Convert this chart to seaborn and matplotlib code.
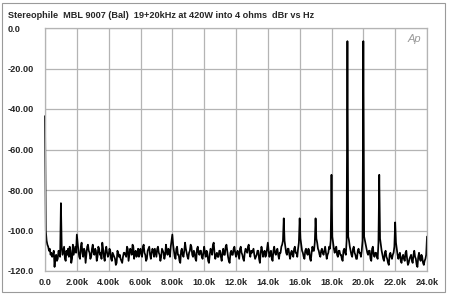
import matplotlib
matplotlib.use("Agg")
import matplotlib.pyplot as plt
import seaborn as sns
import numpy as np
import pandas as pd
from matplotlib.patches import Rectangle

# ---- data ----
title = "Stereophile  MBL 9007 (Bal)  19+20kHz at 420W into 4 ohms  dBr vs Hz"
step_hz = 50  # spacing of the noise floor readings
noise_floor = [
    -43.5, -100, -105, -107, -108, -110, -109, -112, -111, -113, -112, -110, -118, -113, -112, -115, -114, -110, -111, -113,
    -104, -108, -112, -110, -108, -114, -115, -110, -112, -109, -113, -108, -110, -116, -114, -107, -112, -110, -108, -111,
    -102, -106, -110, -113, -114, -108, -106, -111, -113, -109, -110, -116, -112, -108, -107, -110, -111, -114, -113, -109,
    -107, -111, -112, -109, -110, -115, -113, -108, -109, -112, -111, -114, -106, -109, -113, -115, -110, -108, -111, -113,
    -112, -109, -110, -114, -115, -111, -112, -113, -114, -117, -116, -110, -111, -113, -112, -114, -115, -116, -113, -111,
    -111, -112, -113, -108, -109, -115, -112, -109, -110, -112, -107, -108, -114, -111, -110, -113, -112, -109, -113, -110,
    -109, -112, -113, -108, -107, -111, -112, -115, -114, -110, -109, -108, -112, -114, -111, -109, -110, -113, -109, -111,
    -113, -109, -108, -111, -112, -115, -113, -109, -110, -111, -114, -112, -107, -110, -112, -109, -110, -113, -108, -105,
    -102, -107, -110, -113, -114, -109, -108, -112, -112, -115, -116, -110, -109, -112, -113, -110, -106, -109, -111, -113,
    -114, -111, -110, -107, -108, -112, -113, -110, -111, -114, -115, -109, -108, -111, -112, -110, -110, -113, -114, -111,
    -108, -111, -113, -110, -111, -115, -116, -112, -109, -110, -112, -107, -106, -111, -114, -112, -111, -113, -113, -110,
    -110, -113, -115, -111, -109, -112, -112, -108, -107, -110, -113, -115, -116, -111, -110, -112, -112, -109, -108, -111,
    -113, -111, -110, -112, -114, -109, -108, -111, -112, -114, -115, -111, -109, -110, -111, -108, -107, -111, -113, -110,
    -111, -110, -109, -112, -114, -113, -112, -110, -110, -114, -116, -111, -108, -110, -113, -111, -110, -113, -112, -109,
    -106, -110, -113, -111, -110, -114, -115, -110, -108, -111, -112, -110, -109, -112, -114, -111, -111, -108, -107, -105,
    -104, -105, -108, -111, -112, -109, -109, -112, -114, -111, -110, -112, -113, -109, -108, -111, -111, -113, -109, -106,
    -104, -104, -107, -110, -111, -113, -114, -110, -109, -111, -112, -109, -110, -114, -115, -111, -108, -110, -110, -106,
    -104, -104, -106, -109, -110, -112, -113, -110, -109, -111, -112, -110, -108, -111, -114, -112, -111, -108, -109, -105,
    -104, -103, -106, -109, -111, -109, -108, -112, -113, -110, -110, -112, -112, -114, -115, -110, -109, -111, -112, -105,
    -104, -103, -105, -108, -110, -112, -113, -109, -108, -111, -112, -114, -114, -110, -109, -111, -111, -113, -110, -105,
    -104, -103, -105, -107, -109, -111, -112, -110, -110, -114, -115, -109, -108, -112, -113, -111, -111, -113, -114, -106,
    -104, -104, -107, -110, -112, -114, -115, -111, -110, -113, -114, -116, -117, -112, -111, -113, -114, -112, -111, -108,
    -104, -106, -109, -112, -114, -112, -111, -115, -116, -113, -112, -114, -115, -111, -110, -114, -117, -116, -114, -113,
    -112, -115, -116, -112, -110, -113, -114, -117, -118, -113, -111, -114, -115, -112, -113, -116, -117, -115, -114, -112,
    -103,
]
tone_freqs = [1000, 15000, 16000, 17000, 18000, 19000, 20000, 21000, 22000]
tone_levels = [-86.5, -94, -94, -94, -72.5, -6.5, -6.5, -72.5, -96]

x_ticks = [0, 2000, 4000, 6000, 8000, 10000, 12000, 14000, 16000, 18000, 20000, 22000, 24000]
x_labels = ["0.0", "2.00k", "4.00k", "6.00k", "8.00k", "10.0k", "12.0k", "14.0k",
            "16.0k", "18.0k", "20.0k", "22.0k", "24.0k"]
y_ticks = [0, -20, -40, -60, -80, -100, -120]
y_labels = ["0.0", "-20.00", "-40.00", "-60.00", "-80.00", "-100.0", "-120.0"]

# ---- build table ----
freq = np.arange(len(noise_floor)) * step_hz
level = np.array(noise_floor, dtype=float)
for f, l in zip(tone_freqs, tone_levels):
    level[int(round(f / step_hz))] = l
df = pd.DataFrame({"Hz": freq, "dBr": level})

sns.set_style("white")
plt.rcParams["font.family"] = ["Liberation Sans", "DejaVu Sans"]

fig = plt.figure(figsize=(4.5, 2.95), dpi=100)
ax = fig.add_axes([45 / 450, 1 - 271 / 295, (427 - 45) / 450, (271 - 28) / 295])

sns.lineplot(data=df, x="Hz", y="dBr", ax=ax, color="black", linewidth=1.25)
for ln in ax.lines:
    ln.set_clip_on(False)

ax.set_xlim(0, 24000)
ax.set_ylim(-120, 0)
ax.set_xticks(x_ticks)
ax.set_xticklabels(x_labels, fontsize=6.6, fontweight="bold")
ax.set_yticks(y_ticks)
ax.set_yticklabels(y_labels, fontsize=6.6, fontweight="bold", ha="left")
ax.tick_params(axis="y", length=0, pad=26.6)
ax.tick_params(axis="x", length=0, pad=5)
ax.set_xlabel("")
ax.set_ylabel("")
ax.grid(True, color="#b4b4b4", linewidth=0.9)
for s in ax.spines.values():
    s.set_color("#b4b4b4")
    s.set_linewidth(0.9)

ax.text(0.985, 0.975, "Ap", transform=ax.transAxes, ha="right", va="top",
        fontsize=8, fontstyle="italic", color="#9a9a9a")

fig.text(8 / 450, 1 - 15 / 295, title, fontsize=6.6, fontweight="bold",
         ha="left", va="center")

fig.patches.append(Rectangle((2 / 450, 3 / 295), 443 / 450, 289 / 295,
                             transform=fig.transFigure, fill=False,
                             edgecolor="#9a9a9a", linewidth=0.8))

fig.savefig("out.png", dpi=100)
